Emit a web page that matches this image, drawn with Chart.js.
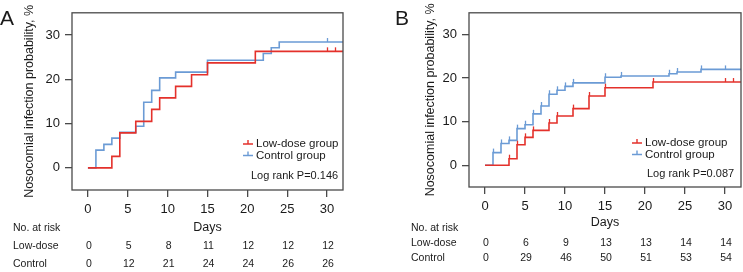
<!DOCTYPE html>
<html>
<head>
<meta charset="utf-8">
<script src="https://cdn.jsdelivr.net/npm/chart.js@4.4.1/dist/chart.umd.min.js"></script>
<style>
  body { margin: 0; background: #fff; }
  #wrap { position: relative; width: 743px; height: 272px; }
  .panel { position: absolute; top: 0; }
</style>
</head>
<body>
<div id="wrap">
  <canvas id="chartA" class="panel" style="left:0" width="372" height="272"></canvas>
  <canvas id="chartB" class="panel" style="left:372px" width="371" height="272"></canvas>
</div>
<script>
// x ticks / risk table days, y ticks
const riskDays = [0, 5, 10, 15, 20, 25, 30];
const yTickVals = [0, 10, 20, 30];
const seriesNames = ["Low-dose group", "Control group"];
const rowNames = ["Low-dose", "Control"];

// Panel A - cumulative incidence (%) step curves
const daysA_low = [0, 3, 4, 6, 8, 9, 11, 13, 15, 21, 32];
const probA_low = [0, 2.6, 7.9, 10.5, 13.2, 15.8, 18.4, 21.0, 23.7, 26.3, 26.3];
const censorA_low = [30, 31];
const daysA_ctrl = [0, 1, 2, 3, 4, 6, 7, 8, 9, 11, 15, 22, 23, 24, 32];
const probA_ctrl = [0, 4.0, 5.3, 6.7, 8.0, 9.4, 14.8, 17.5, 20.3, 21.6, 24.3, 25.8, 27.1, 28.4, 28.4];
const censorA_ctrl = [30];
const riskA_low = [0, 5, 8, 11, 12, 12, 12];
const riskA_ctrl = [0, 12, 21, 24, 24, 26, 26];
const pvalA = "Log rank P=0.146";

// Panel B
const daysB_low = [0, 3, 4, 5, 6, 8, 9, 11, 13, 15, 21, 32];
const probB_low = [0, 1.5, 4.7, 6.4, 8.0, 9.7, 11.3, 13.0, 15.9, 17.8, 19.1, 19.1];
const censorB_low = [3, 4, 5, 6, 8, 9, 11, 13, 15, 21, 30, 31];
const daysB_ctrl = [0, 1, 2, 3, 4, 5, 6, 7, 8, 9, 10, 11, 15, 17, 23, 24, 27, 32];
const probB_ctrl = [0, 2.9, 5.0, 5.7, 8.4, 9.3, 11.8, 13.6, 16.3, 17.2, 18.1, 18.9, 20.2, 20.5, 21.0, 21.4, 22.0, 22.0];
const censorB_ctrl = [1, 2, 3, 4, 5, 6, 7, 8, 9, 10, 11, 15, 17, 23, 24, 27, 30];
const riskB_low = [0, 6, 9, 13, 13, 14, 14];
const riskB_ctrl = [0, 29, 46, 50, 51, 53, 54];
const pvalB = "Log rank P=0.087";

const FONT = '"Liberation Sans", Arial, Helvetica, sans-serif';
Chart.defaults.font.family = FONT;
Chart.defaults.color = "#1a1a1a";

const RED = "#e4312b";
const BLUE = "#6b9bd5";
const FRAME = "#4a4a4a";

const toPoints = (days, probs) => days.map((d, i) => ({ x: d, y: probs[i] }));

const stepValue = (days, probs, d) => {
  let v = probs[0];
  for (let i = 0; i < days.length; i++) if (days[i] <= d) v = probs[i];
  return v;
};

// frame, censor marks, legend, panel letter and the risk table
const kmExtras = {
  id: "kmExtras",
  afterDatasetsDraw(chart, args, o) {
    const { ctx, chartArea: a, scales: { x, y } } = chart;
    ctx.save();
    ctx.strokeStyle = FRAME;
    ctx.lineWidth = 1.3;
    ctx.strokeRect(a.left, a.top, a.right - a.left, a.bottom - a.top);

    o.curves.forEach((c, i) => {
      ctx.strokeStyle = chart.data.datasets[i].borderColor;
      ctx.lineWidth = 1.3;
      c.censor.forEach((d) => {
        const px = Math.round(x.getPixelForValue(d)) + 0.5;
        const py = y.getPixelForValue(stepValue(c.days, c.probs, d));
        ctx.beginPath();
        ctx.moveTo(px, py);
        ctx.lineTo(px, py - 4);
        ctx.stroke();
      });
    });

    // legend
    ctx.font = "11.5px " + FONT;
    ctx.textBaseline = "middle";
    ctx.textAlign = "left";
    chart.data.datasets.forEach((ds, i) => {
      const ly = o.legendY + i * 11.5;
      ctx.strokeStyle = ds.borderColor;
      ctx.lineWidth = 1.4;
      ctx.beginPath();
      ctx.moveTo(o.legendX, ly);
      ctx.lineTo(o.legendX + 10, ly);
      ctx.moveTo(o.legendX + 5, ly);
      ctx.lineTo(o.legendX + 5, ly - 4);
      ctx.stroke();
      ctx.fillStyle = "#1a1a1a";
      ctx.fillText(ds.label, o.legendX + 13, ly);
    });
    ctx.font = "11px " + FONT;
    ctx.fillText(o.pval, o.pvalX, o.pvalY);

    // panel letter
    ctx.font = "21px " + FONT;
    ctx.textBaseline = "alphabetic";
    ctx.fillText(o.letter, o.letterX, o.letterY);

    // risk table
    ctx.font = "10.5px " + FONT;
    ctx.textBaseline = "middle";
    ctx.fillText("No. at risk", o.rowLabelX, o.headerY);
    o.rows.forEach((r, i) => {
      ctx.textAlign = "left";
      ctx.fillText(rowNames[i], o.rowLabelX, r.y);
      ctx.textAlign = "center";
      r.values.forEach((v, j) => {
        ctx.fillText(String(v), x.getPixelForValue(riskDays[j]) + 1, r.y);
      });
    });
    ctx.restore();
  }
};

function makeKM(id, p) {
  const axisGrid = {
    drawOnChartArea: false,
    drawTicks: true,
    tickLength: 7,
    color: FRAME,
    lineWidth: 1.3
  };
  return new Chart(document.getElementById(id), {
    type: "line",
    data: {
      datasets: [
        {
          label: seriesNames[0],
          data: toPoints(p.curves[0].days, p.curves[0].probs),
          borderColor: RED,
          borderWidth: 1.6,
          stepped: "before",
          pointRadius: 0,
          fill: false
        },
        {
          label: seriesNames[1],
          data: toPoints(p.curves[1].days, p.curves[1].probs),
          borderColor: BLUE,
          borderWidth: 1.6,
          stepped: "before",
          pointRadius: 0,
          fill: false
        }
      ]
    },
    options: {
      responsive: false,
      animation: false,
      devicePixelRatio: 1,
      layout: { padding: { left: 0, top: p.top, right: p.right, bottom: 0 } },
      scales: {
        x: {
          type: "linear",
          min: -2,
          max: 32,
          afterBuildTicks: (s) => { s.ticks = riskDays.map((v) => ({ value: v })); },
          afterFit: (s) => { s.height = p.xHeight; },
          grid: axisGrid,
          border: { display: false },
          ticks: { font: { size: 13 }, color: "#1a1a1a", padding: 5, maxRotation: 0 },
          title: {
            display: true,
            text: "Days",
            font: { size: 12.5 },
            color: "#1a1a1a",
            padding: { top: 0, bottom: p.daysPad }
          }
        },
        y: {
          min: -5,
          max: 35,
          afterBuildTicks: (s) => { s.ticks = yTickVals.map((v) => ({ value: v })); },
          afterFit: (s) => { s.width = p.yWidth; },
          grid: axisGrid,
          border: { display: false },
          ticks: { font: { size: 13 }, color: "#1a1a1a", padding: 5 },
          title: {
            display: true,
            text: "Nosocomial infection probability, %",
            font: { size: 12.5 },
            color: "#1a1a1a",
            padding: { top: p.yTitlePad, bottom: 0 }
          }
        }
      },
      plugins: {
        legend: { display: false },
        tooltip: { enabled: false },
        kmExtras: p
      }
    },
    plugins: [kmExtras]
  });
}

makeKM("chartA", {
  top: 10, right: 29, xHeight: 82, yWidth: 72, daysPad: 36.5, yTitlePad: 22.5,
  curves: [
    { days: daysA_low, probs: probA_low, censor: censorA_low },
    { days: daysA_ctrl, probs: probA_ctrl, censor: censorA_ctrl }
  ],
  legendX: 243, legendY: 144, pval: pvalA, pvalX: 251, pvalY: 176,
  letter: "A", letterX: 0, letterY: 25,
  rowLabelX: 13, headerY: 228,
  rows: [{ values: riskA_low, y: 246 }, { values: riskA_ctrl, y: 264 }]
});

makeKM("chartB", {
  top: 6, right: 2, xHeight: 85, yWidth: 97, daysPad: 41.5, yTitlePad: 51.5,
  curves: [
    { days: daysB_low, probs: probB_low, censor: censorB_low },
    { days: daysB_ctrl, probs: probB_ctrl, censor: censorB_ctrl }
  ],
  legendX: 260, legendY: 143, pval: pvalB, pvalX: 275, pvalY: 174,
  letter: "B", letterX: 23, letterY: 25,
  rowLabelX: 39, headerY: 228,
  rows: [{ values: riskB_low, y: 243 }, { values: riskB_ctrl, y: 258 }]
});
</script>
</body>
</html>
